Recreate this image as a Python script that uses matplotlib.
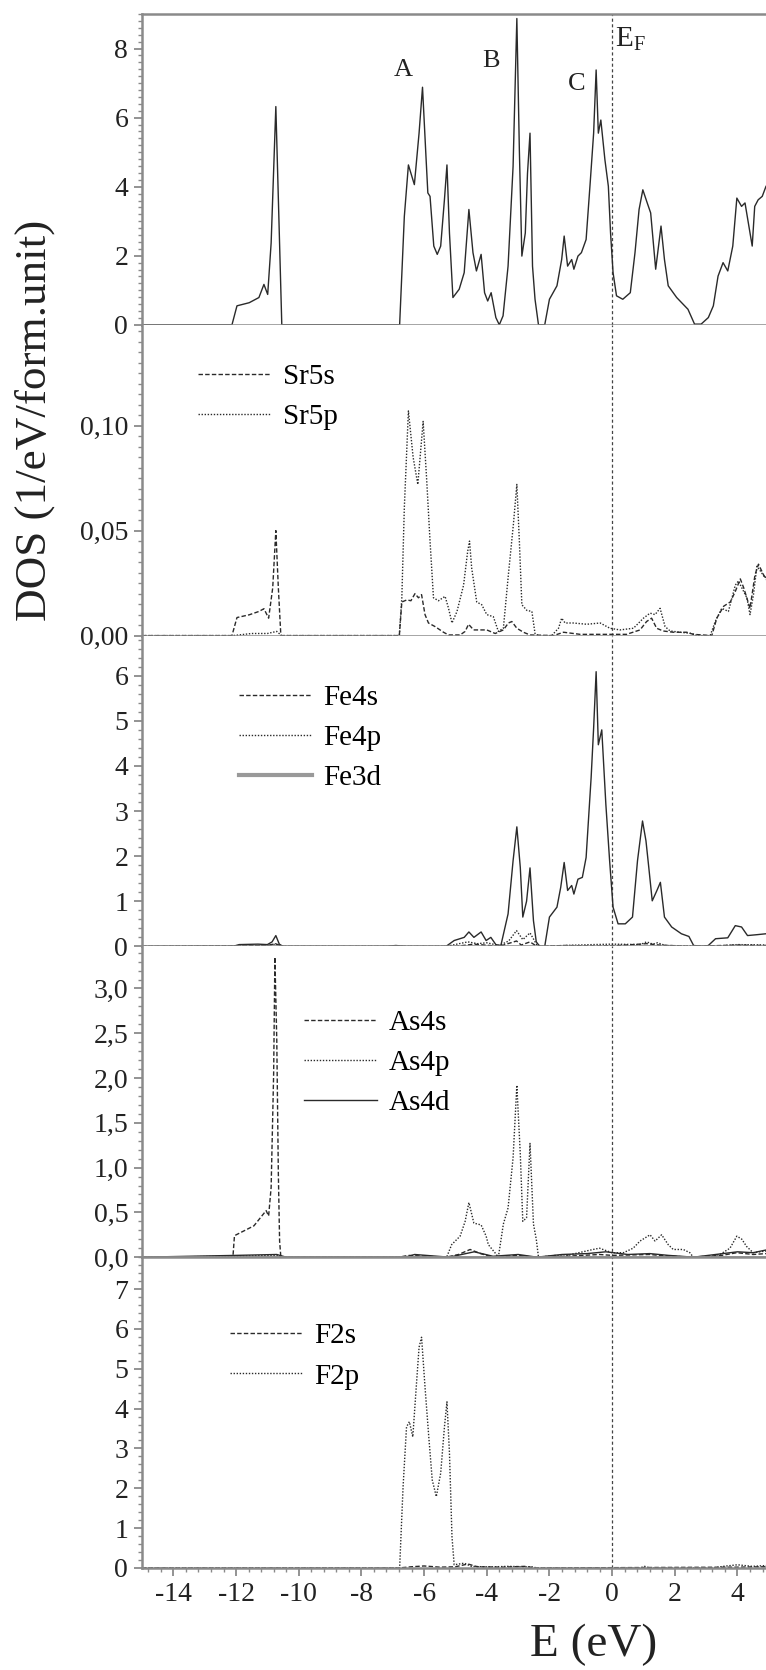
import matplotlib
matplotlib.use('Agg')
import matplotlib.pyplot as plt
from matplotlib.ticker import MultipleLocator, FuncFormatter
from matplotlib.lines import Line2D

plt.rcParams['font.family'] = ['Liberation Serif', 'DejaVu Serif']
plt.rcParams['mathtext.fontset'] = 'custom'
plt.rcParams['mathtext.rm'] = 'Liberation Serif'
plt.rcParams['axes.unicode_minus'] = False

# total DOS
tot_e = [-15, -12.13, -11.97, -11.58, -11.27, -11.11, -10.99, -10.88, -10.73, -10.62, -10.54,
         -6.78, -6.63, -6.50, -6.31, -6.16, -6.05, -5.94, -5.88, -5.81, -5.69,
         -5.58, -5.47, -5.35, -5.27, -5.19, -5.08, -4.88, -4.72, -4.57, -4.44,
         -4.33, -4.18, -4.07, -3.97, -3.86, -3.71, -3.60, -3.48, -3.32, -3.16,
         -3.04, -2.96, -2.88, -2.77, -2.70, -2.62, -2.54, -2.46, -2.35, -2.15,
         -2.00, -1.76, -1.61, -1.53, -1.42, -1.29, -1.22, -1.09, -0.98, -0.83,
         -0.70, -0.59, -0.51, -0.44, -0.36, -0.23, -0.12, -0.05, 0.03, 0.14,
         0.34, 0.58, 0.73, 0.86, 0.98, 1.12, 1.23, 1.39, 1.56, 1.67,
         1.79, 2.06, 2.42, 2.63, 2.84, 3.07, 3.23, 3.38, 3.54, 3.69,
         3.85, 3.98, 4.13, 4.24, 4.40, 4.47, 4.55, 4.66, 4.79, 4.91]
tot = [0, 0, 0.55, 0.64, 0.79, 1.17, 0.88, 2.37, 6.32, 2.66, 0,
       0, 3.14, 4.63, 4.06, 5.55, 6.88, 4.88, 3.82, 3.72, 2.28,
       2.04, 2.28, 3.63, 4.63, 2.66, 0.79, 1.03, 1.51, 3.34, 2.09,
       1.56, 2.04, 0.93, 0.69, 0.93, 0.21, 0, 0.26, 1.70, 4.59,
       8.87, 5.07, 1.99, 2.66, 4.39, 5.55, 1.70, 0.74, 0, 0,
       0.74, 1.13, 1.89, 2.57, 1.70, 1.89, 1.61, 1.99, 2.09, 2.47,
       4.11, 5.55, 7.38, 5.55, 5.93, 4.78, 4.01, 2.66, 1.51, 0.84,
       0.74, 0.93, 2.09, 3.34, 3.91, 3.53, 3.24, 1.61, 2.86, 1.89,
       1.13, 0.79, 0.45, 0.02, 0.02, 0.21, 0.55, 1.41, 1.80, 1.56,
       2.28, 3.67, 3.43, 3.53, 2.66, 2.28, 3.43, 3.62, 3.72, 4.01]

# Sr
sr5s_e = [-15, -12.13, -11.97, -11.58, -11.27, -11.11, -10.96, -10.83, -10.73, -10.65, -10.57,
          -6.79, -6.71, -6.55, -6.42, -6.29, -6.18, -6.08, -5.97, -5.86, -5.65,
          -5.38, -5.22, -4.85, -4.69, -4.58, -4.42, -4.0, -3.73, -3.47, -3.31,
          -3.20, -3.04, -2.83, -2.62, -1.87, -1.55, -1.02, -0.07, 0.46, 0.89,
          1.10, 1.26, 1.42, 1.63, 1.95, 2.38, 2.59, 3.18, 3.34, 3.56,
          3.77, 3.93, 4.09, 4.20, 4.40, 4.56, 4.67, 4.83, 4.95]
sr5s = [0, 0, 0.0086, 0.0099, 0.0115, 0.0128, 0.0083, 0.0227, 0.050, 0.0227, 0,
        0, 0.016, 0.017, 0.0166, 0.020, 0.018, 0.0195, 0.010, 0.006, 0.0043,
        0.0016, 0.0003, 0.0003, 0.002, 0.0054, 0.0027, 0.0027, 0.001, 0.0027, 0.006,
        0.0067, 0.0035, 0.0016, 0.0003, 0, 0.0016, 0.0006, 0.0006, 0.0006, 0.0027,
        0.0067, 0.0083, 0.0035, 0.0022, 0.0016, 0.0016, 0.0006, 0, 0.0083, 0.014,
        0.016, 0.021, 0.027, 0.0227, 0.013, 0.029, 0.034, 0.029, 0.026]
sr5p_e = [-15, -12.1, -11.5, -11.0, -10.7, -10.55,
          -6.79, -6.71, -6.63, -6.50, -6.35, -6.20, -6.03, -5.92, -5.81, -5.70,
          -5.54, -5.33, -5.22, -5.11, -4.95, -4.74, -4.61, -4.55, -4.48, -4.32,
          -4.16, -4.0, -3.79, -3.63, -3.47, -3.31, -3.15, -3.04, -2.96, -2.88,
          -2.72, -2.56, -2.46, -2.35,
          -1.93, -1.71, -1.61, -1.50, -1.24, -0.81, -0.38, -0.07, 0.25, 0.68,
          1.0, 1.21, 1.37, 1.53, 1.69, 1.85, 2.17, 2.55, 2.71, 3.13,
          3.29, 3.50, 3.71, 3.93, 4.03, 4.14, 4.30, 4.40, 4.51, 4.62,
          4.72, 4.88, 4.95]
sr5p = [0, 0, 0.001, 0.001, 0.002, 0,
        0, 0.018, 0.061, 0.107, 0.085, 0.072, 0.102, 0.075, 0.045, 0.018,
        0.0166, 0.0187, 0.013, 0.006, 0.0115, 0.024, 0.040, 0.045, 0.032, 0.016,
        0.0147, 0.010, 0.009, 0.002, 0.0035, 0.029, 0.053, 0.072, 0.045, 0.0147,
        0.012, 0.0115, 0.001, 0,
        0, 0.0035, 0.0083, 0.006, 0.006, 0.0054, 0.006, 0.0035, 0.0027, 0.0035,
        0.0083, 0.0107, 0.010, 0.013, 0.0043, 0.0022, 0.0016, 0.001, 0, 0,
        0.0067, 0.013, 0.0115, 0.024, 0.026, 0.0227, 0.018, 0.010, 0.0195, 0.033,
        0.031, 0.0275, 0.029]

# Fe
fe4s_e = [-15, -12.0, -11.0, -10.75, -10.5, -5.0, -4.4, -3.6, -3.05, -2.9,
          -2.62, -2.4, -1.5, -0.5, 0.2, 1.1, 1.5, 2.5, 4.0, 4.91]
fe4s = [0, 0.01, 0.02, 0.06, 0, 0, 0.05, 0, 0.12, 0.03,
        0.1, 0, 0.02, 0.01, 0.02, 0.06, 0.03, 0, 0.03, 0.02]
fe4p_e = [-15, -12.0, -11.0, -10.75, -10.5, -5.3, -4.6, -4.3, -4.0, -3.6,
          -3.3, -3.05, -2.85, -2.62, -2.4, -2.2, -1.5, -0.6, 0.0, 0.9,
          1.1, 1.3, 1.45, 1.7, 3.2, 4.0, 4.91]
fe4p = [0, 0.01, 0.02, 0.05, 0, 0, 0.1, 0.06, 0.08, 0.02,
        0.12, 0.35, 0.15, 0.3, 0.03, 0, 0.02, 0.04, 0.05, 0.04,
        0.1, 0.05, 0.08, 0.02, 0, 0.04, 0.03]
fe3d_e = [-15, -12.1, -11.9, -11.3, -11.0, -10.85, -10.73, -10.62, -10.5, -7.2,
          -6.9, -6.6, -5.3, -5.04, -4.72, -4.57, -4.41, -4.18, -4.02, -3.87,
          -3.71, -3.55, -3.32, -3.16, -3.04, -2.93, -2.85, -2.73, -2.62, -2.51,
          -2.42, -2.31, -2.15, -2.0, -1.76, -1.64, -1.53, -1.42, -1.29, -1.22,
          -1.09, -0.95, -0.83, -0.67, -0.59, -0.51, -0.44, -0.33, -0.20, -0.08,
          0.03, 0.19, 0.42, 0.65, 0.81, 0.97, 1.08, 1.17, 1.28, 1.43,
          1.54, 1.67, 1.90, 2.21, 2.45, 2.60, 2.92, 3.07, 3.30, 3.69,
          3.93, 4.13, 4.32, 4.63, 4.91]
fe3d = [0, 0, 0.04, 0.05, 0.04, 0.1, 0.24, 0.05, 0, 0,
        0.02, 0, 0, 0.13, 0.2, 0.32, 0.2, 0.32, 0.13, 0.2,
        0.04, 0.02, 0.72, 1.9, 2.65, 1.75, 0.65, 1.0, 1.74, 0.57,
        0.1, 0, 0, 0.65, 0.87, 1.31, 1.86, 1.24, 1.35, 1.16,
        1.49, 1.53, 1.97, 3.74, 4.84, 6.09, 4.47, 4.80, 3.15, 1.9,
        0.87, 0.5, 0.5, 0.65, 1.9, 2.78, 2.34, 1.75, 1.01, 1.24,
        1.42, 0.65, 0.43, 0.28, 0.22, 0.02, 0, 0.02, 0.17, 0.19,
        0.46, 0.43, 0.24, 0.26, 0.28]

# As
as4s_e = [-15, -12.1, -12.05, -11.43, -11.04, -10.96, -10.88, -10.80, -10.76, -10.70,
          -10.65, -10.61, -10.57, -6.8, -6.5, -5.3, -4.9, -4.53, -4.2, -3.8,
          -3.0, -2.5, -1.5, -0.4, 0.0, 1.2, 1.5, 2.5, 3.5, 3.98,
          4.5, 4.91]
as4s = [0, 0, 0.24, 0.35, 0.52, 0.46, 0.78, 2.05, 3.35, 2.42,
        0.93, 0.18, 0, 0, 0.02, 0, 0.03, 0.086, 0.04, 0,
        0.02, 0, 0.01, 0.03, 0.02, 0.03, 0.02, 0, 0.02, 0.05,
        0.03, 0.04]
as4p_e = [-15, -12.0, -10.7, -10.5, -5.28, -5.12, -4.85, -4.69, -4.57, -4.41,
          -4.18, -4.02, -3.95, -3.74, -3.63, -3.47, -3.32, -3.16, -3.04, -2.93,
          -2.85, -2.73, -2.62, -2.51, -2.42, -2.35, -1.8, -1.56, -0.61, -0.4,
          -0.01, 0.36, 0.67, 0.89, 1.21, 1.37, 1.58, 1.79, 1.95, 2.27,
          2.48, 2.59, 3.12, 3.44, 3.76, 3.98, 4.14, 4.29, 4.50, 4.93]
as4p = [0, 0.01, 0.02, 0, 0, 0.14, 0.235, 0.40, 0.61, 0.38,
        0.36, 0.235, 0.14, 0.05, 0, 0.37, 0.55, 1.11, 1.92, 1.15,
        0.40, 0.44, 1.27, 0.37, 0.2, 0, 0.02, 0.01, 0.086, 0.1,
        0.05, 0.05, 0.1, 0.18, 0.25, 0.18, 0.25, 0.14, 0.086, 0.086,
        0.05, 0, 0, 0.03, 0.1, 0.235, 0.2, 0.12, 0.05, 0.07]
as4d_e = [-15, -12.0, -10.7, -10.4, -6.6, -6.3, -5.2, -4.4, -3.8, -3.0,
          -2.4, -1.6, -0.8, -0.2, 0.5, 1.2, 1.8, 2.6, 3.3, 4.0, 4.5, 4.91]
as4d = [0, 0.02, 0.03, 0, 0, 0.03, 0, 0.06, 0.01, 0.03,
        0, 0.03, 0.04, 0.06, 0.03, 0.04, 0.02, 0, 0.03, 0.06, 0.05, 0.08]

# F
f2s_e = [-15, -6.8, -6.4, -6.0, -5.5, -5.0, -4.6, -4.3, -3.5, -2.8, -2.4, 4.0, 4.91]
f2s = [0, 0, 0.03, 0.05, 0.02, 0.03, 0.1, 0.03, 0.02, 0.04, 0, 0.02, 0.03]
f2p_e = [-15, -6.78, -6.67, -6.56, -6.47, -6.36, -6.25, -6.16, -6.08, -5.97,
         -5.85, -5.74, -5.61, -5.47, -5.35, -5.27, -5.19, -5.11, -5.04, -4.72,
         -4.49, -3.94, -3.32, -2.54, -2.39, 0.9, 1.04, 1.2, 3.23, 3.54,
         4.0, 4.47, 4.91]
f2p = [0, 0, 2.04, 3.54, 3.67, 3.29, 4.54, 5.54, 5.79, 4.54,
       3.29, 2.21, 1.79, 2.38, 3.54, 4.17, 2.88, 0.79, 0.08, 0.12,
       0.04, 0.025, 0.04, 0.025, 0, 0, 0.04, 0, 0, 0.04,
       0.08, 0.04, 0.06]

peak_labels = ['A', 'B', 'C']
peak_pos = [(-6.67, 7.39), (-3.86, 7.63), (-1.14, 6.96)]

XMIN, XMAX = -15, 4.91
SPINE = '#8a8a8a'
INK = '#2a2a2a'
DASH = (0, (3.2, 1.6))
DOT = (0, (1.0, 1.2))

fig = plt.figure(figsize=(7.66, 16.7), dpi=100)
gs = fig.add_gridspec(5, 1, left=0.1854, right=1.0, bottom=0.0611, top=0.9916, hspace=0)
axes = [fig.add_subplot(gs[i]) for i in range(5)]


def setup(ax, top, major, minor, digits):
    ax.set_xlim(XMIN, XMAX)
    ax.set_ylim(0, top)
    ax.xaxis.set_major_locator(MultipleLocator(2))
    ax.xaxis.set_minor_locator(MultipleLocator(0.4))
    ax.yaxis.set_major_locator(MultipleLocator(major))
    ax.yaxis.set_minor_locator(MultipleLocator(minor))
    ax.yaxis.set_major_formatter(FuncFormatter(lambda v, p: f'{v:.{digits}f}'.replace('.', ',')))
    ax.tick_params(which='both', direction='out', color=SPINE, top=False, right=False,
                   labelsize=20, labelcolor='#222222', pad=4)
    ax.tick_params(which='major', length=6, width=1.3)
    ax.tick_params(which='minor', length=3, width=1.0)
    ax.spines['right'].set_visible(False)
    for s in ('left', 'bottom', 'top'):
        ax.spines[s].set_color(SPINE)
        ax.spines[s].set_linewidth(1.8)
    ax.axvline(0, color='#444444', lw=0.9, ls=(0, (2.5, 2.0)), zorder=1)


setup(axes[0], 9.0, 2, 0.2, 0)
setup(axes[1], 0.148, 0.05, 0.005, 2)
setup(axes[2], 6.89, 1, 0.2, 0)
setup(axes[3], 3.47, 0.5, 0.1, 1)
setup(axes[4], 7.8, 1, 0.2, 0)
for ax in axes[:4]:
    ax.tick_params(labelbottom=False)
    ax.spines['top'].set_visible(ax is axes[0])

lw = 1.0
axes[0].plot(tot_e, tot, color=INK, lw=lw)
for lab, (x, y) in zip(peak_labels, peak_pos):
    axes[0].text(x, y, lab, fontsize=19, ha='center', va='center', color='#222222')
axes[0].text(0.58, 8.26, r'$\mathrm{E}_\mathrm{F}$', fontsize=21, ha='center', va='center', color='#222222')

axes[1].plot(sr5s_e, sr5s, color=INK, lw=lw, ls=DASH, label='Sr5s')
axes[1].plot(sr5p_e, sr5p, color=INK, lw=lw, ls=DOT, label='Sr5p')

axes[2].plot(fe4s_e, fe4s, color=INK, lw=lw, ls=DASH, label='Fe4s')
axes[2].plot(fe4p_e, fe4p, color=INK, lw=lw, ls=DOT, label='Fe4p')
axes[2].plot(fe3d_e, fe3d, color=INK, lw=lw, label='Fe3d')

axes[3].plot(as4s_e, as4s, color=INK, lw=lw, ls=DASH, label='As4s')
axes[3].plot(as4p_e, as4p, color=INK, lw=lw, ls=DOT, label='As4p')
axes[3].plot(as4d_e, as4d, color=INK, lw=lw, label='As4d')

axes[4].plot(f2s_e, f2s, color=INK, lw=lw, ls=DASH, label='F2s')
axes[4].plot(f2p_e, f2p, color=INK, lw=lw, ls=DOT, label='F2p')

leg_pos = {1: (0.0897, 0.876), 2: (0.155, 0.843), 3: (0.26, 0.796), 4: (0.141, 0.788)}
for i, (lx, ly) in leg_pos.items():
    handles, labels = axes[i].get_legend_handles_labels()
    if i == 2:
        handles[2] = Line2D([], [], color='#999999', lw=3.0)
    axes[i].legend(handles, labels, loc='upper left', bbox_to_anchor=(lx, ly), frameon=False,
                   fontsize=21, handlelength=2.5, handletextpad=0.4, labelspacing=0.47,
                   borderpad=0, borderaxespad=0)

fig.text(0.045, 0.748, 'DOS (1/eV/form.unit)', rotation=90, fontsize=32.5,
         ha='center', va='center', color='#222222')
fig.text(0.775, 0.015, 'E (eV)', fontsize=34, ha='center', va='center', color='#222222')

fig.savefig('out.png', dpi=100)
